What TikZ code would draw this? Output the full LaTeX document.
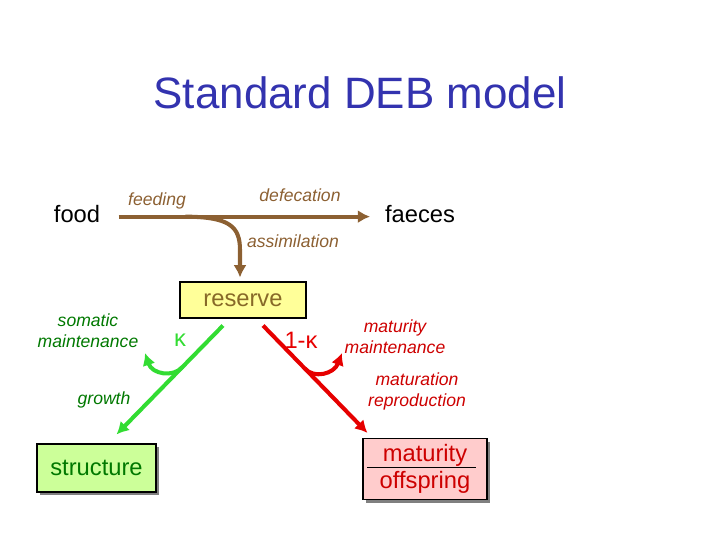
\documentclass[tikz,border=0pt]{standalone}
\usepackage{fontspec}
\setmainfont{Liberation Sans}
\usetikzlibrary{arrows.meta,shadows}

\definecolor{titleblue}{RGB}{51,51,175}
\definecolor{brownflux}{RGB}{140,96,50}
\definecolor{reservetext}{RGB}{135,105,40}
\definecolor{reservefill}{RGB}{255,255,153}
\definecolor{greenflux}{RGB}{50,220,50}
\definecolor{greentext}{RGB}{0,120,0}
\definecolor{structfill}{RGB}{204,255,153}
\definecolor{redflux}{RGB}{230,0,0}
\definecolor{redtext}{RGB}{205,0,0}
\definecolor{matfill}{RGB}{255,204,204}

\begin{document}
\begin{tikzpicture}[x=0.02cm,y=-0.02cm,
	flux/.style={line width=2.3pt,-{Latex[length=7pt,width=7.5pt]}},
	lab/.style={font=\fontsize{10}{12}\selectfont\itshape,align=center},
	big/.style={font=\fontsize{13.5}{15.5}\selectfont},
	box/.style={draw=black,line width=0.6pt,big,align=center,
		drop shadow={shadow xshift=1.8pt,shadow yshift=-1.8pt,fill=gray,opacity=1}}]
		\useasboundingbox (0,0) rectangle (720,540);

		% Title
		\node[text=titleblue,font=\fontsize{25}{30}\selectfont] (title) at (360,93) {Standard DEB model};

		% Feeding
		\node[big] (food) at (77,214) {food};
		\node[big] (faeces) at (420,214) {faeces};
		\draw[flux,brownflux,shorten <=7pt,shorten >=5pt] ([yshift=-1.5pt]food.east) -- ([yshift=-1.5pt]faeces.west) coordinate[pos=0.29] (split);
		\node[lab,text=brownflux] (feeding) at (157,201) {feeding};
		\node[lab,text=brownflux] (defecation) at (300,195) {defecation};

		% Reserve
		\node[draw=black,line width=0.6pt,fill=reservefill,text=reservetext,big,minimum width=2.52cm,minimum height=0.72cm] (reserve) at (243,300) {reserve};
		\draw[flux,brownflux] (split) .. controls (229,217) and (240,226) .. (240,250) -- ([shift={(-3,-4)}]reserve.north);
		\node[lab,text=brownflux] (assimilation) at (293,241) {assimilation};

		% Kappa branch
		\node[box,fill=structfill,text=greentext,minimum width=2.38cm,minimum height=0.96cm] (structure) at (96.5,468) {structure};
		\draw[flux,greenflux] ([shift={(-20,7)}]reserve.south) -- ([shift={(20,-9)}]structure.north) coordinate[pos=0.38] (kb);
		\draw[flux,greenflux] (kb) .. controls (173,378) and (152,374) .. (145,353);
		\node[text=greenflux,big] (kappa) at (180,340) {κ};
		\node[lab,text=greentext] (soma) at (88,331) {somatic\\maintenance};
		\node[lab,text=greentext] (growth) at (104,400) {growth};

		% 1-kappa branch
		\node[box,fill=matfill,text=redtext,minimum width=2.48cm,minimum height=1.16cm] (mat) at (425,469) {maturity\\offspring};
		\draw[black,line width=0.5pt] ([shift={(5,-2)}]mat.west) -- ([shift={(-12,-2)}]mat.east);
		\draw[flux,redflux] ([shift={(20,7)}]reserve.south) -- ([shift={(5,-5)}]mat.north west) coordinate[pos=0.40] (rb);
		\draw[flux,redflux] (rb) .. controls (314,379) and (334,374) .. (342,353);
		\node[text=redflux,big] (onekappa) at (301,340) {1-κ};
		\node[lab,text=redtext] (matmaint) at (395,337) {maturity\\maintenance};
		\node[lab,text=redtext] (matrepro) at (417,391) {maturation\\reproduction};

\end{tikzpicture}
\end{document}
